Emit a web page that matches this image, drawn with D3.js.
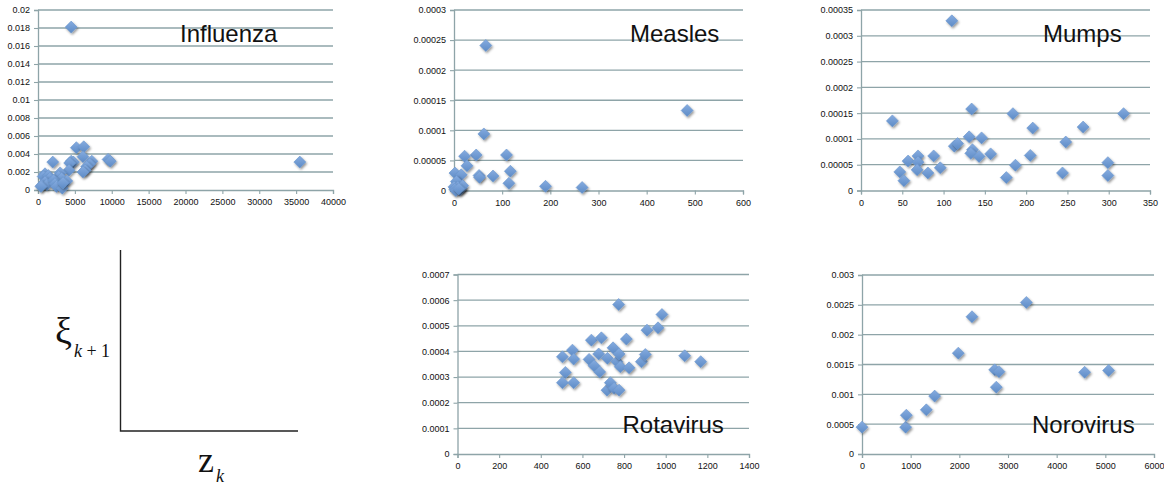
<!DOCTYPE html>
<html>
<head>
<meta charset="utf-8">
<script src="https://cdn.jsdelivr.net/npm/d3@7"></script>
<style>
  body { margin: 0; background: #fff; }
  svg { display: block; }
  .tick text { font-family: "Liberation Sans", Arial, sans-serif; font-size: 9px; fill: #111; }
  .title { font-family: "Liberation Sans", Arial, sans-serif; font-size: 24px; fill: #111; }
  .math { font-family: "Liberation Serif", "DejaVu Serif", serif; fill: #111; }
</style>
</head>
<body>
<div id="viz"></div>
<script>
// values
var influenza = [
  [4500, 0.0181], [35500, 0.0031], [2000, 0.0031],
  [5200, 0.0047], [6200, 0.0048], [6100, 0.0037], [7300, 0.0032], [7000, 0.0029],
  [9500, 0.0034], [9800, 0.0032],
  [4500, 0.0032], [4800, 0.0031], [4300, 0.0030], [4200, 0.0022],
  [6600, 0.0026], [6400, 0.0022], [6100, 0.0020],
  [3000, 0.0019], [2800, 0.0015], [3200, 0.0013], [3900, 0.0010],
  [950, 0.0018], [700, 0.0015], [1400, 0.0016], [1600, 0.0013],
  [950, 0.0009], [500, 0.0005], [1200, 0.0006], [2100, 0.0011], [2300, 0.0007],
  [2500, 0.0004], [3300, 0.0002], [400, 0.0004], [3400, 0.0008]
];
var measles = [
  [66, 0.000241], [484, 0.000133], [62, 0.000094],
  [46, 0.000059], [22, 0.000057], [27, 0.000041], [109, 0.000059],
  [117, 0.000032], [114, 0.000012], [52, 0.000025], [53, 0.000022],
  [81, 0.000024], [190, 0.000007], [266, 0.000005],
  [2, 0.000029], [15, 0.000026], [7, 0.000014],
  [5, 0.000015], [0, 0.000006], [8, 0.000006], [15, 0.000004], [2, 0.000002],
  [12, 0.000001], [18, 0.000008], [4, 0.000000], [10, 0.000003]
];
var mumps = [
  [110, 0.000329], [38, 0.000135], [47, 0.000036], [52, 0.000019],
  [57, 0.000057], [69, 0.000067], [69, 0.000055], [68, 0.000040],
  [81, 0.000034], [88, 0.000067], [96, 0.000044], [113, 0.000086],
  [117, 0.000091], [131, 0.000104], [134, 0.000158], [135, 0.000079],
  [133, 0.000072], [146, 0.000102], [143, 0.000066], [157, 0.000071],
  [176, 0.000025], [184, 0.000149], [187, 0.000049], [205, 0.000068],
  [208, 0.000121], [244, 0.000034], [248, 0.000094], [269, 0.000123],
  [299, 0.000054], [299, 0.000029], [318, 0.000149]
];
var rotavirus = [
  [504, 0.000379], [518, 0.000318], [504, 0.000278], [552, 0.000405],
  [558, 0.000370], [558, 0.000278], [632, 0.000369], [643, 0.000444],
  [656, 0.000344], [678, 0.000390], [683, 0.000320], [691, 0.000453],
  [720, 0.000373], [718, 0.000249], [734, 0.000278], [752, 0.000256],
  [747, 0.000414], [766, 0.000360], [774, 0.000583], [776, 0.000390],
  [782, 0.000340], [776, 0.000249], [811, 0.000448], [824, 0.000336],
  [883, 0.000360], [902, 0.000388], [910, 0.000483], [963, 0.000492],
  [982, 0.000544], [1091, 0.000383], [1168, 0.000360]
];
var norovirus = [
  [0, 0.00045], [897, 0.00045], [911, 0.00065], [1322, 0.00074],
  [1493, 0.00097], [1979, 0.00169], [2260, 0.00230], [2726, 0.00141],
  [2815, 0.00138], [2760, 0.00112], [3377, 0.00254], [4575, 0.00137],
  [5068, 0.00140]
];

var names = ["Influenza", "Measles", "Mumps", "Rotavirus", "Norovirus"];
var series = [influenza, measles, mumps, rotavirus, norovirus];
var xTicks = [
  [0, 5000, 10000, 15000, 20000, 25000, 30000, 35000, 40000],
  [0, 100, 200, 300, 400, 500, 600],
  [0, 50, 100, 150, 200, 250, 300, 350],
  [0, 200, 400, 600, 800, 1000, 1200, 1400],
  [0, 1000, 2000, 3000, 4000, 5000, 6000]
];
var yTicks = [
  [0, 0.002, 0.004, 0.006, 0.008, 0.01, 0.012, 0.014, 0.016, 0.018, 0.02],
  [0, 0.00005, 0.0001, 0.00015, 0.0002, 0.00025, 0.0003],
  [0, 0.00005, 0.0001, 0.00015, 0.0002, 0.00025, 0.0003, 0.00035],
  [0, 0.0001, 0.0002, 0.0003, 0.0004, 0.0005, 0.0006, 0.0007],
  [0, 0.0005, 0.001, 0.0015, 0.002, 0.0025, 0.003]
];

// panel placement: plot box in px and title anchor
var layout = [
  {x0: 38, x1: 333, y0: 190, y1: 10, tx: 180, ty: 42},
  {x0: 454, x1: 743, y0: 190.5, y1: 10, tx: 630, ty: 42},
  {x0: 861, x1: 1150, y0: 190.5, y1: 10, tx: 1043, ty: 42},
  {x0: 457.5, x1: 749, y0: 454, y1: 274.5, tx: 622.5, ty: 433},
  {x0: 862, x1: 1154, y0: 454, y1: 275, tx: 1032, ty: 433}
];

var W = 1164, H = 486;
var gridColor = "#8ea4a8";

var svg = d3.select("#viz").append("svg")
    .attr("width", W)
    .attr("height", H);

var defs = svg.append("defs");
var f = defs.append("filter").attr("id", "shadow")
    .attr("x", "-50%").attr("y", "-50%").attr("width", "200%").attr("height", "200%");
f.append("feDropShadow")
    .attr("dx", 1.2).attr("dy", 1.6).attr("stdDeviation", 1.1)
    .attr("flood-color", "#000").attr("flood-opacity", 0.4);
var grad = defs.append("linearGradient").attr("id", "dia")
    .attr("x1", 0).attr("y1", 0).attr("x2", 0).attr("y2", 1);
grad.append("stop").attr("offset", "0%").attr("stop-color", "#86ace0");
grad.append("stop").attr("offset", "100%").attr("stop-color", "#5d8bc6");

var fmt = function(v) { return String(+v.toPrecision(6)); };

layout.forEach(function(p, i) {
  var xt = xTicks[i], yt = yTicks[i];
  var x = d3.scaleLinear().domain([0, xt[xt.length - 1]]).range([p.x0, p.x1]);
  var y = d3.scaleLinear().domain([0, yt[yt.length - 1]]).range([p.y0, p.y1]);
  var g = svg.append("g");

  // horizontal grid lines
  g.selectAll(".grid")
      .data(yt.slice(1))
    .enter().append("line")
      .attr("x1", p.x0).attr("x2", p.x1)
      .attr("y1", function(d) { return y(d); })
      .attr("y2", function(d) { return y(d); })
      .attr("stroke", gridColor)
      .attr("stroke-width", 1.3);

  var xa = g.append("g")
      .attr("transform", "translate(0," + p.y0 + ")")
      .call(d3.axisBottom(x).tickValues(xt).tickFormat(fmt).tickSize(4).tickPadding(5));
  var ya = g.append("g")
      .attr("transform", "translate(" + p.x0 + ",0)")
      .call(d3.axisLeft(y).tickValues(yt).tickFormat(fmt).tickSize(4).tickPadding(4));
  [xa, ya].forEach(function(a) {
    a.select(".domain").attr("stroke", gridColor).attr("stroke-width", 1.3);
    a.selectAll(".tick line").attr("stroke", gridColor).attr("stroke-width", 1.1);
  });

  g.selectAll(".pt")
      .data(series[i])
    .enter().append("path")
      .attr("d", "M0,-6L6,0L0,6L-6,0Z")
      .attr("transform", function(d) { return "translate(" + x(d[0]) + "," + y(d[1]) + ")"; })
      .attr("fill", "url(#dia)")
      .attr("stroke", "#6a95cc")
      .attr("stroke-width", 0.6)
      .attr("filter", "url(#shadow)");

  g.append("text")
      .attr("class", "title")
      .attr("x", p.tx)
      .attr("y", p.ty)
      .text(names[i]);
});

// schematic axes in the empty corner
var sk = svg.append("g");
sk.append("path")
    .attr("d", "M120.5,250V431H298")
    .attr("fill", "none")
    .attr("stroke", "#222")
    .attr("stroke-width", 1.4);

var xi = sk.append("text").attr("class", "math").attr("x", 55).attr("y", 344);
xi.append("tspan").attr("font-size", 38).text("ξ");
xi.append("tspan").attr("font-size", 18).attr("dx", 2).attr("dy", 13)
    .attr("font-style", "italic").text("k");
xi.append("tspan").attr("font-size", 18).text(" + 1");

var zk = sk.append("text").attr("class", "math").attr("x", 198).attr("y", 472);
zk.append("tspan").attr("font-size", 36).text("z");
zk.append("tspan").attr("font-size", 18).attr("dx", 2).attr("dy", 10)
    .attr("font-style", "italic").text("k");
</script>
</body>
</html>
